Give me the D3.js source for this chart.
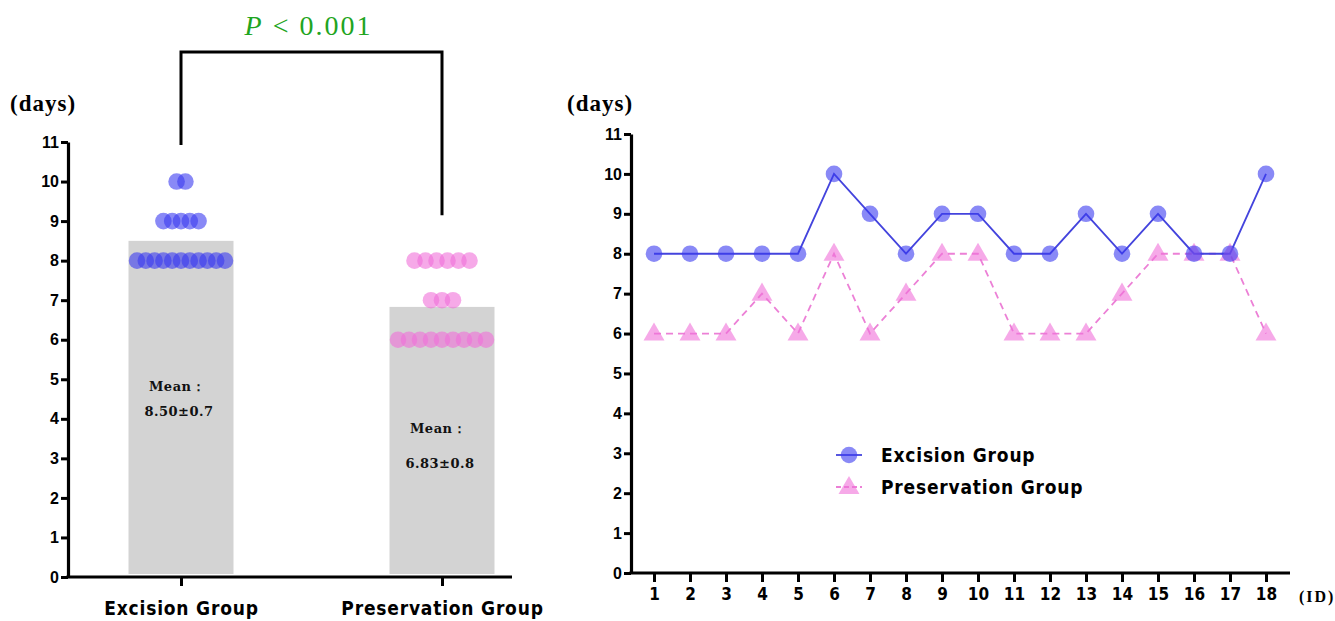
<!DOCTYPE html>
<html><head><meta charset="utf-8">
<script src="https://cdn.jsdelivr.net/npm/d3@7"></script>
<style>body{margin:0;background:#fff}svg{display:block}</style></head>
<body><svg id="c" width="1335" height="621"></svg>
<script>
// ---- data ----
const groups = ["Excision Group", "Preservation Group"];
const ids = [1,2,3,4,5,6,7,8,9,10,11,12,13,14,15,16,17,18];
const excision = [8,8,8,8,8,10,9,8,9,9,8,8,9,8,9,8,8,10];
const preservation = [6,6,6,7,6,8,6,7,8,8,6,6,6,7,8,8,8,6];
const means = [8.50, 6.83];
const sds = [0.7, 0.8];
const yTicks = [0,1,2,3,4,5,6,7,8,9,10,11];
const pLabel = ["P", " < 0.001"];
const unitLabel = "(days)";
const idLabel = "(ID)";

// ---- styles ----
const blue = "#3a3af0", blueLine = "#4444dd";
const pink = "#f070d8", pinkLine = "#ec80d6";
const tickFont = "'Liberation Sans', Arial, sans-serif";
const labelFont = "'DejaVu Sans Condensed', 'Liberation Sans', Arial, sans-serif";
const serif = "'Liberation Serif', 'Times New Roman', serif";
const meanFont = "'DejaVu Serif', serif";

const svg = d3.select("#c");

// ================= LEFT CHART =================
const yL = d3.scaleLinear().domain([0, 11]).range([577, 142]);
const xL = d3.scalePoint().domain(groups).range([181, 442]);
const barW = 105;
const allVals = [excision, preservation];
const spacing = [8.8, 11];

svg.append("g").selectAll("rect").data(groups).join("rect")
  .attr("x", d => xL(d) - barW / 2)
  .attr("width", barW)
  .attr("y", (d, i) => yL(means[i]))
  .attr("height", (d, i) => yL(0) - 3 - yL(means[i]))
  .attr("fill", "#d3d3d3");

groups.forEach((g, gi) => {
  const vals = allVals[gi];
  const counts = d3.rollup(vals, v => v.length, v => v);
  const pts = [];
  counts.forEach((n, v) => {
    for (let k = 0; k < n; k++) pts.push({ v, off: (k - (n - 1) / 2) * spacing[gi] });
  });
  svg.append("g").selectAll("circle").data(pts).join("circle")
    .attr("cx", d => xL(g) + d.off)
    .attr("cy", d => yL(d.v))
    .attr("r", 8.3)
    .attr("fill", gi === 0 ? blue : pink)
    .attr("fill-opacity", 0.6);
});

// mean labels
const meanOff = [[150, 175], [126, 161]];
groups.forEach((g, gi) => {
  const t = svg.append("g").attr("font-family", meanFont).attr("font-weight", "bold")
    .attr("font-size", 13).attr("text-anchor", "middle").attr("fill", "#111");
  t.append("text").attr("x", xL(g) - 4).attr("y", yL(means[gi]) + meanOff[gi][0])
    .attr("letter-spacing", 0.5).text("Mean：");
  t.append("text").attr("x", xL(g) - 2).attr("y", yL(means[gi]) + meanOff[gi][1])
    .attr("letter-spacing", 0.5).text(means[gi].toFixed(2) + "±" + sds[gi]);
});

const axL = svg.append("g").attr("transform", "translate(68,0)")
  .call(d3.axisLeft(yL).tickValues(yTicks).tickSize(7).tickSizeOuter(0).tickPadding(2));
axL.select(".domain").attr("stroke-width", 3.2);
axL.selectAll(".tick line").attr("stroke-width", 3);
axL.selectAll(".tick text").attr("font-family", tickFont).attr("font-weight", "bold")
  .attr("font-size", 16).attr("fill", "#000");

svg.append("line").attr("x1", 66.4).attr("x2", 512).attr("y1", yL(0)).attr("y2", yL(0))
  .attr("stroke", "#000").attr("stroke-width", 3.2);
const axLx = svg.append("g").attr("transform", `translate(0,${yL(0)})`)
  .call(d3.axisBottom(xL).tickSize(9).tickPadding(16));
axLx.select(".domain").remove();
axLx.selectAll(".tick line").attr("stroke-width", 3);
axLx.selectAll(".tick text").attr("font-family", labelFont).attr("font-weight", "bold")
  .attr("font-size", 19).attr("letter-spacing", 0.8).attr("fill", "#000");

svg.append("text").attr("x", 10).attr("y", 111).attr("font-family", serif)
  .attr("font-weight", "bold").attr("font-size", 23).attr("letter-spacing", 1).text(unitLabel);

// significance bracket
const bTop = 52;
svg.append("path")
  .attr("d", `M${xL(groups[0])},${yL(11) + 3}V${bTop}H${xL(groups[1])}V${yL(9.15)}`)
  .attr("fill", "none").attr("stroke", "#000").attr("stroke-width", 3);
const pt = svg.append("text").attr("x", (xL(groups[0]) + xL(groups[1])) / 2 - 3).attr("y", 35)
  .attr("text-anchor", "middle").attr("font-family", serif).attr("font-size", 28)
  .attr("letter-spacing", 2).attr("fill", "#1fa51f").style("white-space", "pre");
pt.append("tspan").attr("font-style", "italic").text(pLabel[0]);
pt.append("tspan").text(pLabel[1]);

// ================= RIGHT CHART =================
const yR = d3.scaleLinear().domain([0, 11]).range([573, 134]);
const xR = d3.scalePoint().domain(ids).range([654, 1266]);

const axR = svg.append("g").attr("transform", "translate(631,0)")
  .call(d3.axisLeft(yR).tickValues(yTicks).tickSize(7).tickSizeOuter(0).tickPadding(2));
axR.select(".domain").attr("stroke-width", 3.2);
axR.selectAll(".tick line").attr("stroke-width", 3);
axR.selectAll(".tick text").attr("font-family", tickFont).attr("font-weight", "bold")
  .attr("font-size", 16).attr("fill", "#000");

svg.append("line").attr("x1", 629.4).attr("x2", 1290).attr("y1", yR(0)).attr("y2", yR(0))
  .attr("stroke", "#000").attr("stroke-width", 3.2);
const axRx = svg.append("g").attr("transform", `translate(0,${yR(0)})`)
  .call(d3.axisBottom(xR).tickSize(9).tickPadding(6));
axRx.select(".domain").remove();
axRx.selectAll(".tick line").attr("stroke-width", 3);
axRx.selectAll(".tick text").attr("font-family", labelFont).attr("font-weight", "bold")
  .attr("font-size", 17).attr("fill", "#000");

svg.append("text").attr("x", 1299).attr("y", 602).attr("font-family", serif)
  .attr("font-weight", "bold").attr("font-size", 16).attr("letter-spacing", 2).text(idLabel);
svg.append("text").attr("x", 567).attr("y", 111).attr("font-family", serif)
  .attr("font-weight", "bold").attr("font-size", 23).attr("letter-spacing", 1).text(unitLabel);

const line = d3.line().x((d, i) => xR(ids[i])).y(d => yR(d));
svg.append("path").datum(preservation).attr("d", line).attr("fill", "none")
  .attr("stroke", pinkLine).attr("stroke-width", 1.8).attr("stroke-dasharray", "7,5");
svg.append("path").datum(excision).attr("d", line).attr("fill", "none")
  .attr("stroke", blueLine).attr("stroke-width", 1.8);

const tri = d3.symbol().type(d3.symbolTriangle).size(190);
svg.append("g").selectAll("path").data(preservation).join("path")
  .attr("d", tri)
  .attr("transform", (d, i) => `translate(${xR(ids[i])},${yR(d) + 1})`)
  .attr("fill", pink).attr("fill-opacity", 0.6);
svg.append("g").selectAll("circle").data(excision).join("circle")
  .attr("cx", (d, i) => xR(ids[i])).attr("cy", d => yR(d)).attr("r", 8.3)
  .attr("fill", blue).attr("fill-opacity", 0.6);

// legend
const lg = svg.append("g").attr("transform", "translate(849,0)");
lg.append("line").attr("x1", -13).attr("x2", 13).attr("y1", 455).attr("y2", 455)
  .attr("stroke", blueLine).attr("stroke-width", 1.8);
lg.append("circle").attr("cx", 0).attr("cy", 455).attr("r", 8.3).attr("fill", blue).attr("fill-opacity", 0.6);
lg.append("line").attr("x1", -13).attr("x2", 13).attr("y1", 487).attr("y2", 487)
  .attr("stroke", pinkLine).attr("stroke-width", 1.8).attr("stroke-dasharray", "5,3");
lg.append("path").attr("d", tri).attr("transform", "translate(0,488)")
  .attr("fill", pink).attr("fill-opacity", 0.6);
lg.selectAll("text").data(groups).join("text")
  .attr("x", 32).attr("y", (d, i) => 462 + i * 32)
  .attr("font-family", labelFont).attr("font-weight", "bold").attr("font-size", 19)
  .attr("letter-spacing", 0.8).text(d => d);
</script></body></html>
